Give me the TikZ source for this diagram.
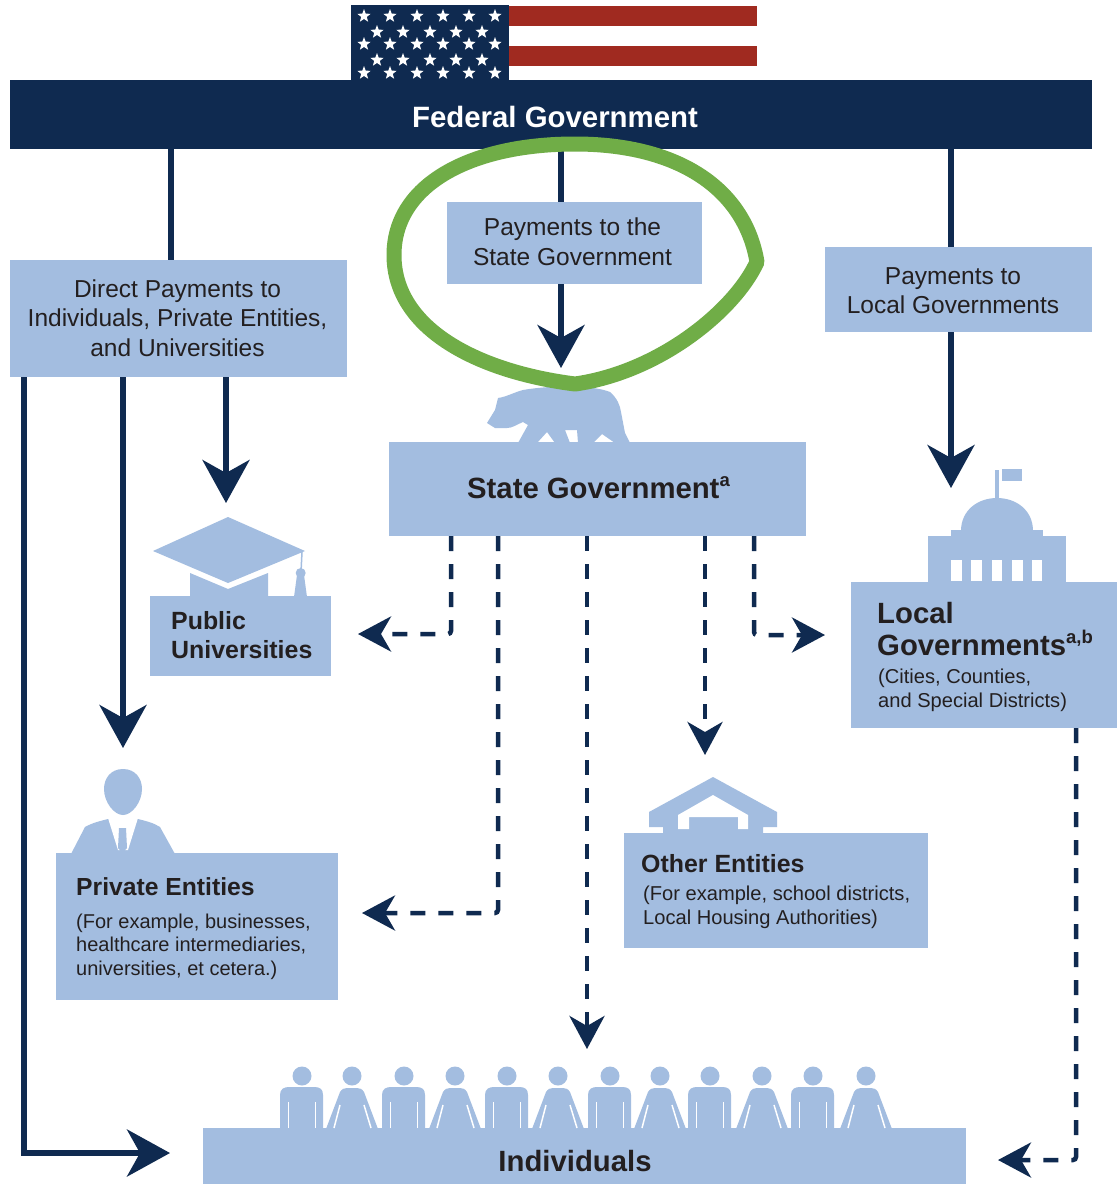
\documentclass[tikz,border=0pt]{standalone}
\usepackage{fontspec}
\setmainfont{Liberation Sans}
\usetikzlibrary{arrows.meta,shapes.geometric}
\definecolor{boxblue}{HTML}{A3BDE0}
\definecolor{navy}{HTML}{0F2A50}
\definecolor{flagred}{HTML}{A02A20}
\definecolor{ringgreen}{HTML}{70AD47}
\definecolor{ink}{HTML}{231F20}
\newcommand{\supmark}[1]{\raisebox{.42em}{\fontsize{18.5}{18.5}\selectfont\bfseries #1}}
\tikzset{
  box/.style={fill=boxblue,draw=none,rectangle,inner sep=0pt},
  reg/.style={text=ink,align=center,inner sep=0pt,font=\fontsize{24.5}{29.5}\selectfont},
  head/.style={text=ink,align=left,inner sep=0pt,anchor=west,font=\fontsize{29.3}{32}\selectfont\bfseries},
  small/.style={text=ink,align=left,inner sep=0pt,anchor=west,font=\fontsize{20.1}{24}\selectfont},
  solidline/.style={draw=navy,line width=5.5pt},
  solidarrow/.style={solidline,-{Stealth[length=43pt,width=47pt,inset=13pt]}},
  dasharrow/.style={draw=navy,line width=4.5pt,dash pattern=on 15pt off 13pt,rounded corners=3pt,-{Stealth[length=33pt,width=35pt,inset=10pt]}},
  flagstar/.style={star,star points=5,star point ratio=2.4,fill=white,draw=none,inner sep=0pt,minimum size=14pt},
  icon/.style={fill=boxblue,draw=none},
}
\begin{document}
\begin{tikzpicture}[x=1pt,y=-1pt]
\useasboundingbox (0,0) rectangle (1117,1184);
\fill[white] (0,0) rectangle (1117,1184);
% flag
\fill[flagred] (509,6) rectangle (757,26);
\fill[flagred] (509,46) rectangle (757,66);
\fill[navy] (351,5) rectangle (509,81);
\foreach \r/\y in {a/16,c/44,e/73}{\foreach \i/\x in {1/364,2/390,3/417,4/443,5/469,6/495}{
  \node[flagstar] (s\r\i) at (\x,\y) {};}}
\foreach \r/\y in {b/32,d/60}{\foreach \i/\x in {1/377,2/403,3/430,4/456,5/482}{
  \node[flagstar] (s\r\i) at (\x,\y) {};}}
% boxes
\node[box,fill=navy,minimum width=1082pt,minimum height=69pt] (fed) at (551,114.5) {};
\node[box,minimum width=337pt,minimum height=117pt] (direct) at (178.5,318.5) {};
\node[box,minimum width=255pt,minimum height=82pt] (paystate) at (574.5,243) {};
\node[box,minimum width=267pt,minimum height=85pt] (paylocal) at (958.5,289.5) {};
\node[box,minimum width=417pt,minimum height=94pt] (state) at (597.5,489) {};
\node[box,minimum width=181pt,minimum height=80pt] (pubu) at (240.5,636) {};
\node[box,minimum width=282pt,minimum height=147pt] (priv) at (197,926.5) {};
\node[box,minimum width=304pt,minimum height=115pt] (other) at (776,890.5) {};
\node[box,minimum width=266pt,minimum height=146pt] (local) at (984,655) {};
\node[box,minimum width=763pt,minimum height=56pt] (indiv) at (584.5,1156) {};
% bear
\fill[icon] (518,443) -- (528,425) -- (523,422) .. controls (516,425) and (512,428) .. (507,428)
  -- (495,428) -- (487,423) -- (495,410) -- (498,398) .. controls (506,397) and (515,392) .. (523,390)
  .. controls (545,386) and (590,384) .. (610,392) .. controls (617,398) and (620,405) .. (621,412)
  -- (625,433) -- (630,443)
  -- (615,443) -- (602,434) -- (593,443) -- (578,443) -- (577,430) -- (565,430) -- (570,443) -- (555,443) -- (547,432) -- (537,443) -- cycle;
% cap
\fill[icon] (228,517) -- (305,551) -- (228,583) -- (153,551) -- cycle;
\fill[icon] (190,573) -- (228,589) -- (268,573) -- (268,597) -- (190,597) -- cycle;
\draw[boxblue,line width=1.5pt] (302,552) -- (301,572);
\fill[icon] (300.7,573) circle (5pt);
\fill[icon] (297,575) -- (304,575) -- (307,597) -- (294,597) -- cycle;
% capitol
\fill[icon] (995,470) rectangle (999,500);
\fill[icon] (1002,469) rectangle (1022,481);
\fill[icon] (961,531) .. controls (961,510) and (978,498) .. (997,498) .. controls (1016,498) and (1033,510) .. (1033,531) -- cycle;
\fill[icon] (951,530) rectangle (1043,537);
\fill[icon] (928,536) rectangle (1066,584);
\foreach \x/\w in {951/11,971/11,992/10,1012/11,1032/10}{\fill[white] (\x,560) rectangle ++(\w,21);}
% person
\fill[icon] (123,769) .. controls (135,769) and (142,778) .. (142,789) .. controls (142,802) and (132,815) .. (123,815) .. controls (114,815) and (104,802) .. (104,789) .. controls (104,778) and (111,769) .. (123,769) -- cycle;
\fill[icon] (71,854) -- (85,827) .. controls (92,823) and (100,821) .. (108,819) -- (138,819) .. controls (146,821) and (154,823) .. (160,827) -- (175,854) -- cycle;
\fill[white] (108,818) -- (138,818) -- (128,850) -- (118,850) -- cycle;
\fill[icon] (119,828) -- (126,828) -- (127,848) -- (122.5,853) -- (118,848) -- cycle;
% house
\fill[icon] (649,812) -- (713,777) -- (777,812) -- (777,827) -- (763,827) -- (763,834) -- (663,834) -- (663,827) -- (649,827) -- cycle;
\fill[white] (678,815) -- (713,795) -- (748,815) -- (748,829) -- (738,829) -- (738,817) -- (689,817) -- (689,829) -- (678,829) -- cycle;
% crowd
\foreach \x in {302,404,507,610,710,813}{
  \begin{scope}[shift={(\x,0)}]
    \fill[icon] (0,1076) circle (9.5pt);
    \fill[icon] (-22,1129) -- (-22,1095) .. controls (-22,1089) and (-18,1087) .. (-13,1087) -- (12,1087) .. controls (18,1087) and (21,1089) .. (21,1095) -- (21,1129) -- cycle;
    \draw[white,line width=1.5pt] (-13.5,1102) -- (-13.5,1128) (13.5,1102) -- (13.5,1128);
  \end{scope}}
\foreach \x in {352,455,558,660,762,866}{
  \begin{scope}[shift={(\x,0)}]
    \fill[icon] (0,1076) circle (9.5pt);
    \fill[icon] (-26,1129) -- (-12,1092) .. controls (-10,1089) and (-8,1088) .. (-5,1088) -- (5,1088) .. controls (8,1088) and (10,1089) .. (12,1092) -- (26,1129) -- cycle;
    \draw[white,line width=1.5pt] (-12,1105) -- (-18,1128) (12,1105) -- (19,1128);
  \end{scope}}
% labels
\node[text=white,inner sep=0pt,font=\fontsize{29.4}{32}\selectfont\bfseries] (fedt) at (555,117) {Federal Government};
\node[reg] (directt) at (177.5,318) {Direct Payments to\\Individuals, Private Entities,\\and Universities};
\node[reg] (paystatet) at (572.5,241.5) {Payments to the\\State Government};
\node[reg] (paylocalt) at (953,290.5) {Payments to\\Local Governments};
\node[head,anchor=center] (statet) at (598.5,488) {State Government\supmark{a}};
\node[head,font=\fontsize{24.9}{29}\selectfont\bfseries] (pubt) at (171,635.5) {Public\\Universities};
\node[head,font=\fontsize{24.7}{30}\selectfont\bfseries] (privt) at (76,887) {Private Entities};
\node[small,font=\fontsize{20}{23.5}\selectfont] (privs) at (76,946.5) {(For example, businesses,\\healthcare intermediaries,\\universities, et cetera.)};
\node[head,font=\fontsize{24.9}{30}\selectfont\bfseries] (othert) at (641,864) {Other Entities};
\node[small] (others) at (643,907) {(For example, school districts,\\Local Housing Authorities)};
\node[head] (localt) at (877,629) {Local\\Governments\supmark{a,b}};
\node[small] (locals) at (878,690) {(Cities, Counties,\\and Special Districts)};
\node[head,anchor=center] (indivt) at (575,1161) {Individuals};
% connector anchors
\foreach \n/\x/\y in {xa/171/0,xb/561/0,xc/951/0,xd/24/0,xe/123/0,xf/226/0,xg/451/0,xh/498/0,xi/587/0,xj/705/0,xk/754/0,xl/1076/0}{\coordinate (\n) at (\x,\y);}
\coordinate (ea) at (24,1153);
\coordinate (eb) at (170,1153);
\coordinate (ec) at (123,748);
\coordinate (ed) at (226,503);
\coordinate (ee) at (561,368);
\coordinate (ef) at (951,488);
\coordinate (ga) at (451,634);
\coordinate (gb) at (358,634);
\coordinate (ha) at (498,913);
\coordinate (hb) at (362,913);
\coordinate (ia) at (587,1049);
\coordinate (ja) at (705,755);
\coordinate (ka) at (754,635);
\coordinate (kb) at (825,635);
\coordinate (la) at (1076,1160);
\coordinate (lb) at (998,1160);
% connectors
\draw[solidline] (fed.south -| xa) -- (direct.north -| xa);
\draw[solidline] (fed.south -| xb) -- (paystate.north -| xb);
\draw[solidline] (fed.south -| xc) -- (paylocal.north -| xc);
\draw[solidarrow] (paystate.south -| xb) -- (ee);
\draw[solidarrow] (paylocal.south -| xc) -- (ef);
\draw[solidarrow] (direct.south -| xd) -- (ea) -- (eb);
\draw[solidarrow] (direct.south -| xe) -- (ec);
\draw[solidarrow] (direct.south -| xf) -- (ed);
\draw[dasharrow] (state.south -| xg) -- (ga) -- (gb);
\draw[dasharrow] (state.south -| xh) -- (ha) -- (hb);
\draw[dasharrow] (state.south -| xi) -- (ia);
\draw[dasharrow] (state.south -| xj) -- (ja);
\draw[dasharrow] (state.south -| xk) -- (ka) -- (kb);
\draw[dasharrow] (local.south -| xl) -- (la) -- (lb);
% highlight ring
\draw[ringgreen,line width=15pt,line join=round] (575,144) .. controls (680,144) and (745,190) .. (757,262) .. controls (735,310) and (660,372) .. (575,384) .. controls (480,372) and (394,330) .. (394,255) .. controls (394,185) and (470,144) .. (575,144) -- cycle;
\end{tikzpicture}
\end{document}
